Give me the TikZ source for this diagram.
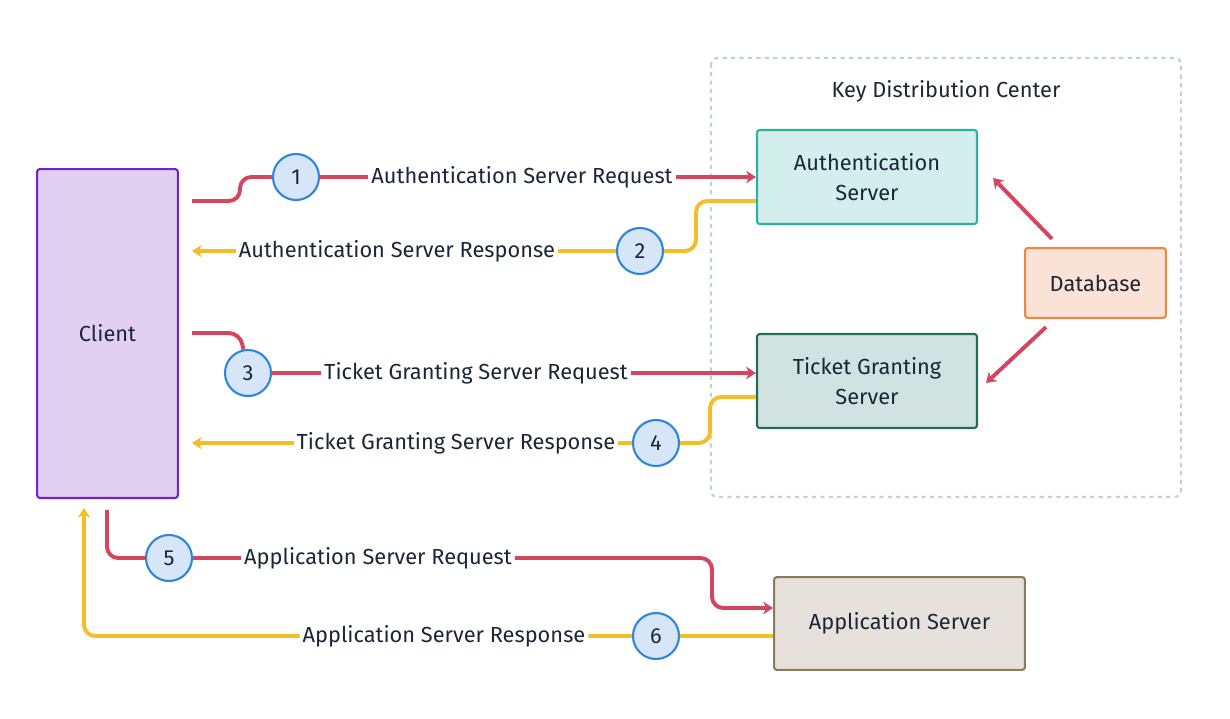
\documentclass[tikz,border=0pt]{standalone}
\usepackage{fontspec}
\setmainfont{Fira Sans}
\usetikzlibrary{arrows.meta,positioning}
\definecolor{req}{HTML}{D6455E}
\definecolor{resp}{HTML}{F5BE26}
\definecolor{stepfill}{HTML}{D6E6F8}
\definecolor{stepline}{HTML}{2F86D8}
\definecolor{ink}{HTML}{1B2636}
\definecolor{clientfill}{HTML}{E2D0F3}
\definecolor{clientline}{HTML}{7A1FC8}
\definecolor{asfill}{HTML}{D3EEEC}
\definecolor{asline}{HTML}{2BB3A0}
\definecolor{tgsfill}{HTML}{D0E3E0}
\definecolor{tgsline}{HTML}{1F6E5A}
\definecolor{dbfill}{HTML}{FAE3D6}
\definecolor{dbline}{HTML}{E8884A}
\definecolor{appfill}{HTML}{E6E1DB}
\definecolor{appline}{HTML}{8B7A5E}
\definecolor{kdcline}{HTML}{C3CFD9}
\tikzset{
  box/.style={draw,line width=1.5pt,rounded corners=2pt,align=center,text=ink,font=\fontsize{15.5}{21}\selectfont},
  stepnum/.style={circle,draw=stepline,fill=stepfill,line width=1.5pt,minimum size=1.15cm,inner sep=0pt,text=ink,font=\fontsize{15.5}{20}\selectfont},
  lbl/.style={fill=white,inner sep=2pt,text=ink,font=\fontsize{15.5}{20}\selectfont},
  reqline/.style={draw=req,line width=2.8pt,rounded corners=8pt},
  respline/.style={draw=resp,line width=2.8pt,rounded corners=8pt},
  tip/.style={-{Stealth[length=7pt,width=9pt]}}
}
\begin{document}
\begin{tikzpicture}[x=0.025cm,y=-0.025cm]
  \useasboundingbox (0,0) rectangle (1230,718);
  % key distribution center
  \draw[dashed,draw=kdcline,line width=1.5pt,rounded corners=4pt] (711,58) rectangle (1181,497);
  \node[text=ink,font=\fontsize{15.5}{20}\selectfont] (kdc) at (946,91) {Key Distribution Center};
  % boxes
  \node[box,draw=clientline,fill=clientfill,minimum width=3.52cm,minimum height=8.22cm] (client) at (107.5,333.5) {Client};
  \node[box,draw=asline,fill=asfill,minimum width=5.5cm,minimum height=2.35cm] (as) at (867,177) {Authentication\\Server};
  \node[box,draw=tgsline,fill=tgsfill,minimum width=5.5cm,minimum height=2.35cm] (tgs) at (867,381) {Ticket Granting\\Server};
  \node[box,draw=dbline,fill=dbfill,minimum width=3.52cm,minimum height=1.75cm] (db) at (1095.5,283) {Database};
  \node[box,draw=appline,fill=appfill,minimum width=6.27cm,minimum height=2.32cm] (app) at (899.5,623.5) {Application Server};
  % steps
  \node[stepnum] (s1) at (296,177) {1};
  \node[stepnum] (s2) at (640,251) {2};
  \node[stepnum] (s3) at (248,373) {3};
  \node[stepnum] (s4) at (656,443) {4};
  \node[stepnum] (s5) at (169,558) {5};
  \node[stepnum] (s6) at (656,636) {6};
  % labels
  \node[lbl] (l1) at (522,177) {Authentication Server Request};
  \node[lbl] (l2) at (397,251) {Authentication Server Response};
  \node[lbl] (l3) at (476,373) {Ticket Granting Server Request};
  \node[lbl] (l4) at (456,443) {Ticket Granting Server Response};
  \node[lbl] (l5) at (378,558) {Application Server Request};
  \node[lbl] (l6) at (444,636) {Application Server Response};
  % endpoints
  \coordinate (c1) at (192,201);
  \coordinate (c2) at (192,251);
  \coordinate (c3) at (192,333);
  \coordinate (c4) at (192,443);
  \coordinate (c5) at (107,510);
  \coordinate (c6) at (84,508);
  % step 1
  \draw[reqline] (c1) -- (240,201) -- (240,177) -- (s1);
  \draw[reqline,tip] (s1) -- (l1) -- (as.west |- s1);
  % step 2
  \draw[respline] (as.west |- 0,201) -- (696,201) -- (696,251) -- (s2);
  \draw[respline,tip] (s2) -- (l2) -- (c2);
  % step 3
  \draw[reqline] (c3) -- (240,333) -- (s3);
  \draw[reqline,tip] (s3) -- (l3) -- (tgs.west |- s3);
  % step 4
  \draw[respline] (tgs.west |- 0,397) -- (710,397) -- (710,443) -- (s4);
  \draw[respline,tip] (s4) -- (l4) -- (c4);
  % step 5
  \draw[reqline] (c5) -- (107,558) -- (s5);
  \draw[reqline,tip] (s5) -- (l5) -- (712,558) -- (712,608) -- (app.west |- 0,608);
  % step 6
  \draw[respline] (app.west |- s6) -- (s6);
  \draw[respline,tip] (s6) -- (l6) -- (84,636) -- (c6);
  % database
  \draw[req,line width=2.8pt,tip] (db.north west) ++(28,-8) coordinate (d1) -- (993,178);
  \draw[req,line width=2.8pt,tip] (db.south west) ++(22,8) coordinate (d2) -- (986,383);
\end{tikzpicture}
\end{document}
